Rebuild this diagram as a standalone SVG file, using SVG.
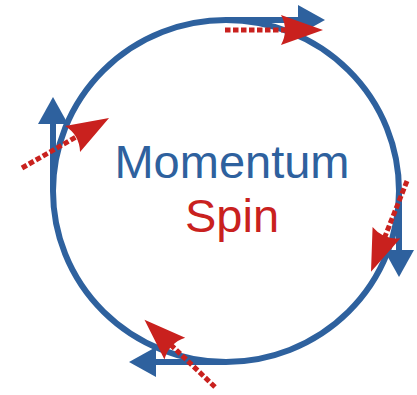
<svg xmlns="http://www.w3.org/2000/svg" width="417" height="395" viewBox="0 0 417 395">
  <style>
    .ring { fill: none; stroke: #2E619E; stroke-width: 6; }
    .mom { fill: none; stroke: #2E619E; stroke-width: 6; }
    .spin { fill: none; stroke: #C9211E; stroke-width: 5; stroke-dasharray: 5.5 2.5; }
    .label { font-family: "Liberation Sans", Arial, sans-serif; font-size: 47px; text-anchor: middle; }
  </style>
  <defs>
    <marker id="blueHead" markerUnits="userSpaceOnUse" markerWidth="40" markerHeight="40" viewBox="-2 -20 40 40" refX="0" refY="0" orient="auto" overflow="visible">
      <path d="M-1,-15 L26,0 L-1,15 Z" fill="#2E619E"/>
    </marker>
    <marker id="redHead" markerUnits="userSpaceOnUse" markerWidth="60" markerHeight="40" viewBox="-10 -20 60 40" refX="0" refY="0" orient="auto" overflow="visible">
      <path d="M36,0 L-6,-15 Q2,0 -6,15 Z" fill="#C9211E"/>
    </marker>
  </defs>

  <g id="orbit">
    <ellipse class="ring" cx="226" cy="191" rx="173" ry="171"/>
  </g>

  <g id="connectors">
    <g id="momentum-arrows">
      <line class="mom" x1="226" y1="20" x2="299" y2="20" marker-end="url(#blueHead)"/>
      <line class="mom" x1="53" y1="191" x2="53" y2="123" marker-end="url(#blueHead)"/>
      <line class="mom" x1="399" y1="191" x2="399" y2="251" marker-end="url(#blueHead)"/>
      <line class="mom" x1="226" y1="362" x2="155" y2="362" marker-end="url(#blueHead)"/>
    </g>
    <g id="spin-arrows">
      <line class="spin" x1="225" y1="30" x2="287" y2="30" marker-end="url(#redHead)"/>
      <line class="spin" x1="22" y1="168" x2="77.8" y2="136" marker-end="url(#redHead)"/>
      <line class="spin" x1="407" y1="181" x2="384.3" y2="238.2" marker-end="url(#redHead)"/>
      <line class="spin" x1="215" y1="387" x2="170.5" y2="344.5" marker-end="url(#redHead)"/>
    </g>
  </g>

  <g id="labels">
    <text class="label" x="232" y="178" fill="#2E619E">Momentum</text>
    <text class="label" x="232" y="232" fill="#C9211E">Spin</text>
  </g>
</svg>
